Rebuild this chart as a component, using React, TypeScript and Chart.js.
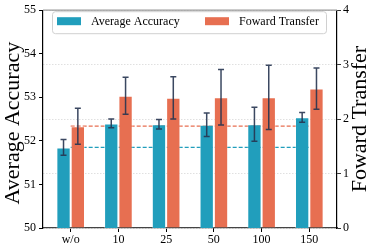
import React, { useEffect, useRef } from "react";
import { Chart, registerables } from "chart.js";

Chart.register(...registerables);

const categories = ["w/o", "10", "25", "50", "100", "150"];
const avgAccuracy = [51.85, 52.4, 52.38, 52.37, 52.38, 52.54];
const avgAccuracyErr = [0.18, 0.1, 0.11, 0.27, 0.39, 0.11];
const fowardTransfer = [1.87, 2.43, 2.39, 2.4, 2.4, 2.56];
const fowardTransferErr = [0.33, 0.34, 0.39, 0.51, 0.59, 0.38];
const leftTicks = [50, 51, 52, 53, 54, 55];
const rightTicks = [0, 1, 2, 3, 4];

const TEAL = "#219ebc";
const ORANGE = "#e76f51";
const FONT = "'Liberation Serif', 'Times New Roman', serif";

const errorBarPlugin = {
  id: "errorBars",
  afterDatasetsDraw(chart: any) {
    const ctx = chart.ctx;
    chart.data.datasets.forEach((ds: any, i: number) => {
      if (!ds.errors) return;
      const meta = chart.getDatasetMeta(i);
      const ys = chart.scales[ds.yAxisID];
      meta.data.forEach((el: any, j: number) => {
        const v = ds.data[j].y;
        const e = ds.errors[j];
        const x = el.x;
        const y1 = ys.getPixelForValue(v + e);
        const y2 = ys.getPixelForValue(v - e);
        ctx.save();
        ctx.strokeStyle = "rgba(38,52,80,0.9)";
        ctx.lineWidth = 1.5;
        ctx.beginPath();
        ctx.moveTo(x, y1);
        ctx.lineTo(x, y2);
        ctx.moveTo(x - 3, y1);
        ctx.lineTo(x + 3, y1);
        ctx.moveTo(x - 3, y2);
        ctx.lineTo(x + 3, y2);
        ctx.stroke();
        ctx.restore();
      });
    });
  },
};

const framePlugin = {
  id: "frameAndLegend",
  afterDraw(chart: any) {
    const ctx = chart.ctx;
    const ca = chart.chartArea;
    ctx.save();
    ctx.strokeStyle = "#999";
    ctx.lineWidth = 1.2;
    ctx.beginPath();
    ctx.moveTo(ca.left, ca.top);
    ctx.lineTo(ca.right, ca.top);
    ctx.stroke();

    ctx.fillStyle = "#000";
    ctx.font = `22px ${FONT}`;
    ctx.textAlign = "center";
    ctx.textBaseline = "middle";
    const cy = (ca.top + ca.bottom) / 2;
    ctx.save();
    ctx.translate(ca.left - 30, cy + 4);
    ctx.rotate(-Math.PI / 2);
    ctx.fillText("Average Accuracy", 0, 0);
    ctx.restore();
    ctx.save();
    ctx.translate(ca.right + 23, cy);
    ctx.rotate(-Math.PI / 2);
    ctx.fillText("Foward Transfer", 0, 0);
    ctx.restore();

    const lx = ca.left + 9;
    const ly = ca.top + 1;
    const lw = ca.right - 11 - lx;
    const lh = 22;
    ctx.fillStyle = "rgba(255,255,255,0.85)";
    ctx.strokeStyle = "#d0d0d0";
    ctx.lineWidth = 1;
    ctx.beginPath();
    (ctx as any).roundRect(lx + 0.5, ly + 0.5, lw, lh, 3);
    ctx.fill();
    ctx.stroke();
    const entries = [
      { label: "Average Accuracy", color: TEAL, x: lx + 5 },
      { label: "Foward Transfer", color: ORANGE, x: lx + 153 },
    ];
    ctx.font = `12px ${FONT}`;
    ctx.textAlign = "left";
    ctx.textBaseline = "middle";
    entries.forEach((en) => {
      ctx.fillStyle = en.color;
      ctx.fillRect(en.x, ly + 6, 24, 8);
      ctx.fillStyle = "#000";
      ctx.fillText(en.label, en.x + 34, ly + 11);
    });
    ctx.restore();
  },
};

export default function App() {
  const ref = useRef<HTMLCanvasElement | null>(null);
  useEffect(() => {
    if (!ref.current) return;
    const xs = categories.map((_, i) => i);
    const chart = new Chart(ref.current, {
      type: "bar",
      data: {
        datasets: [
          {
            type: "bar",
            label: "Average Accuracy",
            data: xs.map((x, i) => ({ x, y: avgAccuracy[i] })),
            errors: avgAccuracyErr,
            yAxisID: "y",
            backgroundColor: TEAL,
            borderColor: "rgba(255,255,255,0.35)",
            borderWidth: 1,
            categoryPercentage: 0.6,
            barPercentage: 1.0,
            order: 1,
          } as any,
          {
            type: "bar",
            label: "Foward Transfer",
            data: xs.map((x, i) => ({ x, y: fowardTransfer[i] })),
            errors: fowardTransferErr,
            yAxisID: "y1",
            backgroundColor: ORANGE,
            borderColor: "rgba(255,255,255,0.35)",
            borderWidth: 1,
            categoryPercentage: 0.6,
            barPercentage: 1.0,
            order: 1,
          } as any,
          {
            type: "line",
            label: "acc-baseline",
            data: [
              { x: xs[0], y: avgAccuracy[0] },
              { x: xs[xs.length - 1], y: avgAccuracy[0] },
            ],
            yAxisID: "y",
            borderColor: TEAL,
            borderWidth: 1.3,
            borderDash: [4, 2],
            pointRadius: 0,
            order: 10,
          } as any,
          {
            type: "line",
            label: "ft-baseline",
            data: [
              { x: xs[0], y: fowardTransfer[0] },
              { x: xs[xs.length - 1], y: fowardTransfer[0] },
            ],
            yAxisID: "y1",
            borderColor: ORANGE,
            borderWidth: 1.3,
            borderDash: [4, 2],
            pointRadius: 0,
            order: 10,
          } as any,
        ],
      },
      options: {
        responsive: true,
        maintainAspectRatio: false,
        animation: false,
        layout: { padding: { top: 10, left: 0, right: 0, bottom: 0 } },
        plugins: { legend: { display: false }, tooltip: { enabled: false } },
        scales: {
          x: {
            type: "linear",
            offset: false,
            min: -0.58,
            max: 5.58,
            afterBuildTicks: (s: any) => {
              s.ticks = xs.map((v) => ({ value: v }));
            },
            afterFit: (s: any) => {
              s.height = 23;
            },
            ticks: {
              callback: (v: any) => categories[v] ?? "",
              font: { family: FONT, size: 12 },
              color: "#000",
              padding: 1,
              maxRotation: 0,
            },
            grid: { drawOnChartArea: false, offset: false, tickLength: 4, tickColor: "#000", color: "#000" },
            border: { color: "#444", width: 1.2 },
          },
          y: {
            position: "left",
            min: 50,
            max: 55,
            afterBuildTicks: (s: any) => {
              s.ticks = leftTicks.map((v) => ({ value: v }));
            },
            afterFit: (s: any) => {
              s.width = 43;
            },
            ticks: {
              font: { family: FONT, size: 12 },
              color: "#000",
              padding: 3,
            },
            grid: { drawOnChartArea: false, tickLength: 4, tickColor: "#000", color: "#000" },
            border: { color: "#000", width: 1.2 },
          },
          y1: {
            position: "right",
            min: 0,
            max: 4,
            afterBuildTicks: (s: any) => {
              s.ticks = rightTicks.map((v) => ({ value: v }));
            },
            afterFit: (s: any) => {
              s.width = 37;
            },
            ticks: {
              font: { family: FONT, size: 12 },
              color: "#000",
              padding: 2,
            },
            grid: {
              drawOnChartArea: true,
              color: "#d8d8d8",
              lineWidth: 0.8,
              tickLength: 4,
              tickColor: "#000",
            },
            border: { color: "#000", width: 1.2, dash: [1.5, 1.5] },
          },
        },
      } as any,
      plugins: [errorBarPlugin, framePlugin],
    });
    return () => chart.destroy();
  }, []);
  return (
    <div style={{ position: "absolute", left: 0, top: 0, width: 374, height: 251 }}>
      <canvas ref={ref} />
    </div>
  );
}
